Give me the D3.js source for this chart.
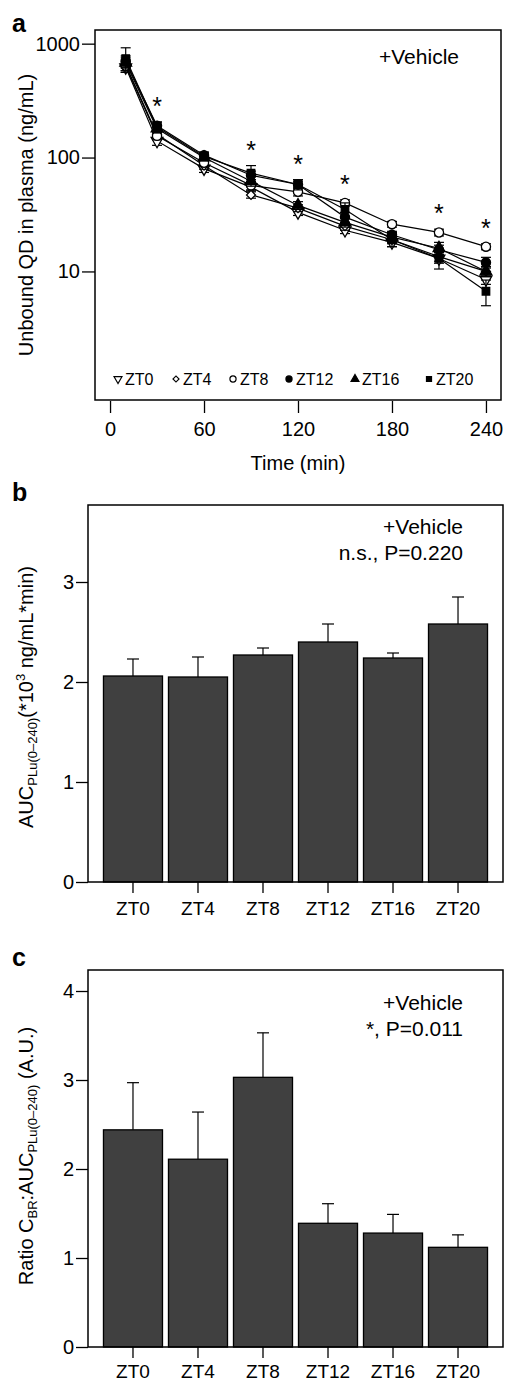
<!DOCTYPE html>
<html>
<head>
<meta charset="utf-8">
<script src="https://cdn.jsdelivr.net/npm/d3@7/dist/d3.min.js"></script>
<style>
body { margin: 0; background: #fff; }
svg { font-family: "Liberation Sans", Arial, sans-serif; }
</style>
</head>
<body>
<svg id="fig" width="505" height="1382"></svg>
<script>
// sampling times (min) and circadian groups
var times = [10, 30, 60, 90, 120, 150, 180, 210, 240];
var groups = ["ZT0", "ZT4", "ZT8", "ZT12", "ZT16", "ZT20"];

// unbound QD in plasma (ng/mL), mean per group
var zt0Mean = [620, 140, 80, 55, 33, 23, 18, 13, 8.5];
var zt4Mean = [650, 160, 85, 47, 36, 25, 19, 13.5, 10];
var zt8Mean = [640, 155, 90, 57, 50, 40, 26, 22, 16.5];
var zt12Mean = [700, 190, 105, 70, 58, 30, 21, 15.5, 12];
var zt16Mean = [680, 180, 100, 62, 38, 27, 20, 16, 10];
var zt20Mean = [740, 185, 102, 73, 58, 35, 19, 13, 6.7];

// SEM per group
var zt0Sem = [60, 12, 6, 4, 2, 1.5, 1.5, 1.2, 0.8];
var zt4Sem = [70, 14, 6, 3, 2.5, 2, 1.5, 1.2, 1];
var zt8Sem = [60, 12, 7, 5, 4, 2.5, 1.5, 1.5, 1];
var zt12Sem = [80, 15, 7, 6, 4, 3, 1.5, 1.5, 1.3];
var zt16Sem = [70, 15, 6, 6, 3, 2.5, 2, 2, 1];
var zt20Sem = [180, 20, 8, 12, 6, 5, 2.5, 2.5, 1.7];

// time points with a significant group difference
var sigTimes = [30, 90, 120, 150, 210, 240];

// AUC PLu(0-240) (*10^3 ng/mL*min)
var aucMean = [2.06, 2.05, 2.27, 2.40, 2.24, 2.58];
var aucSem = [0.17, 0.20, 0.07, 0.18, 0.05, 0.27];

// ratio C_BR : AUC PLu(0-240) (A.U.)
var ratioMean = [2.44, 2.11, 3.03, 1.39, 1.28, 1.12];
var ratioSem = [0.53, 0.53, 0.50, 0.22, 0.21, 0.14];

var logTicks = [10, 100, 1000];
var timeTicks = [0, 60, 120, 180, 240];
var aucTicks = [0, 1, 2, 3];
var ratioTicks = [0, 1, 2, 3, 4];

(function() {

    var svg = d3.select("#fig");

    var means = [zt0Mean, zt4Mean, zt8Mean, zt12Mean, zt16Mean, zt20Mean];
    var sems = [zt0Sem, zt4Sem, zt8Sem, zt12Sem, zt16Sem, zt20Sem];

    //symbol type, fill, rotation for each group
    var shapes = [
        {type: d3.symbolTriangle, fill: "#fff", rot: 180},
        {type: d3.symbolSquare, fill: "#fff", rot: 45},
        {type: d3.symbolCircle, fill: "#fff", rot: 0},
        {type: d3.symbolCircle, fill: "#000", rot: 0},
        {type: d3.symbolTriangle, fill: "#000", rot: 0},
        {type: d3.symbolSquare, fill: "#000", rot: 0}
    ];
    var sizes = [60, 40, 66, 66, 60, 56];

    var drawBox = function(x0, y0, x1, y1) {
        svg.append("rect")
            .attr("x", x0).attr("y", y0)
            .attr("width", x1 - x0).attr("height", y1 - y0)
            .attr("fill", "none").attr("stroke", "#000").attr("stroke-width", 1.5);
    };

    var styleAxis = function(g, fontSize) {
        g.select(".domain").remove();
        g.selectAll(".tick line").attr("stroke", "#000").attr("stroke-width", 1.3);
        g.selectAll(".tick text").attr("fill", "#000")
            .style("font-size", fontSize + "px")
            .style("font-family", "Liberation Sans, Arial, sans-serif");
    };

    var panelLetter = function(txt, x, y) {
        svg.append("text").attr("x", x).attr("y", y)
            .style("font-size", "25px").style("font-weight", "bold")
            .text(txt);
    };

    //######################### panel a #########################
    var xA = d3.scaleLinear().domain([-9.6, 249.6]).range([95, 501]);
    var yA = d3.scaleLog().domain([Math.pow(10, -0.12), Math.pow(10, 3.12)]).range([399, 30]);

    panelLetter("a", 12, 32);

    var gxA = svg.append("g").attr("transform", "translate(0,401)")
        .call(d3.axisBottom(xA).tickValues(timeTicks).tickSize(12).tickPadding(9));
    styleAxis(gxA, 20);

    var gyA = svg.append("g").attr("transform", "translate(95,0)")
        .call(d3.axisLeft(yA).tickValues(logTicks).tickFormat(d3.format("d")).tickSize(13).tickPadding(2));
    styleAxis(gyA, 20);

    var line = d3.line()
        .x(function(d) { return xA(d[0]); })
        .y(function(d) { return yA(d[1]); });

    var seriesA = svg.append("g");
    means.forEach(function(m, gi) {
        var pts = times.map(function(t, i) { return [t, m[i], sems[gi][i]]; });
        var sg = seriesA.append("g");
        sg.append("path").datum(pts).attr("d", line)
            .attr("fill", "none").attr("stroke", "#000").attr("stroke-width", 1.2);
        pts.forEach(function(p) {
            var x = xA(p[0]);
            var yl = yA(p[1] - p[2]), yh = yA(p[1] + p[2]);
            sg.append("line").attr("x1", x).attr("x2", x).attr("y1", yl).attr("y2", yh)
                .attr("stroke", "#000").attr("stroke-width", 1.2);
            [yl, yh].forEach(function(yy) {
                sg.append("line").attr("x1", x - 5).attr("x2", x + 5).attr("y1", yy).attr("y2", yy)
                    .attr("stroke", "#000").attr("stroke-width", 1.2);
            });
        });
        sg.selectAll("path.pt").data(pts).enter().append("path")
            .attr("class", "pt")
            .attr("d", d3.symbol().type(shapes[gi].type).size(sizes[gi]))
            .attr("transform", function(d) {
                return "translate(" + xA(d[0]) + "," + yA(d[1]) + ") rotate(" + shapes[gi].rot + ")";
            })
            .attr("fill", shapes[gi].fill).attr("stroke", "#000").attr("stroke-width", 1.3);
    });

    //asterisks above the highest error bar at each significant time
    sigTimes.forEach(function(t) {
        var i = times.indexOf(t);
        var top = d3.max(means, function(m, gi) { return m[i] + sems[gi][i]; });
        svg.append("text").attr("x", xA(t)).attr("y", yA(top) - 7)
            .attr("text-anchor", "middle").style("font-size", "25px").text("*");
    });

    svg.append("text").attr("x", 379).attr("y", 64)
        .style("font-size", "21px").text("+Vehicle");

    //legend along the bottom of the plot
    var legX = [118, 176, 233, 289, 355, 429];
    groups.forEach(function(name, gi) {
        svg.append("path")
            .attr("d", d3.symbol().type(shapes[gi].type).size(sizes[gi] * 0.45))
            .attr("transform", "translate(" + legX[gi] + ",379) rotate(" + shapes[gi].rot + ")")
            .attr("fill", shapes[gi].fill).attr("stroke", "#000").attr("stroke-width", 1.2);
        svg.append("text").attr("x", legX[gi] + 7).attr("y", 385)
            .style("font-size", "16px").text(name);
    });

    drawBox(95, 30, 501, 400);

    svg.append("text").attr("transform", "translate(33,215) rotate(-90)")
        .attr("text-anchor", "middle").style("font-size", "20px")
        .text("Unbound QD in plasma (ng/mL)");
    svg.append("text").attr("x", 298).attr("y", 470)
        .attr("text-anchor", "middle").style("font-size", "20px")
        .text("Time (min)");

    //######################### bar panels #########################
    var barPanel = function(opts) {
        var x = d3.scaleBand().domain(groups).range([88, 503]).paddingInner(0.092).paddingOuter(0.238);
        var y = d3.scaleLinear().domain([0, opts.top]).range([opts.bottom, opts.y0]);

        panelLetter(opts.letter, 12, opts.y0 - 4);

        var bars = svg.append("g");
        groups.forEach(function(g, i) {
            var cx = x(g) + x.bandwidth() / 2;
            var yt = y(opts.means[i] + opts.sems[i]);
            bars.append("line").attr("x1", cx).attr("x2", cx)
                .attr("y1", y(opts.means[i])).attr("y2", yt)
                .attr("stroke", "#000").attr("stroke-width", 1.2);
            bars.append("line").attr("x1", cx - 6).attr("x2", cx + 6)
                .attr("y1", yt).attr("y2", yt)
                .attr("stroke", "#000").attr("stroke-width", 1.2);
        });
        bars.selectAll("rect").data(opts.means).enter().append("rect")
            .attr("x", function(d, i) { return x(groups[i]); })
            .attr("y", function(d) { return y(d); })
            .attr("width", x.bandwidth())
            .attr("height", function(d) { return opts.bottom - y(d); })
            .attr("fill", "#404040").attr("stroke", "#000").attr("stroke-width", 1.3);

        var gx = svg.append("g").attr("transform", "translate(0," + opts.bottom + ")")
            .call(d3.axisBottom(x).tickSize(11).tickPadding(opts.xPad));
        styleAxis(gx, 19);

        var gy = svg.append("g").attr("transform", "translate(88,0)")
            .call(d3.axisLeft(y).tickValues(opts.ticks).tickFormat(d3.format("d")).tickSize(12).tickPadding(2));
        styleAxis(gy, 20);

        drawBox(88, opts.y0, 503, opts.bottom);

        opts.notes.forEach(function(n, k) {
            svg.append("text").attr("x", 463).attr("y", opts.noteY + k * 26)
                .attr("text-anchor", "end").style("font-size", "21px").text(n);
        });

        var lab = svg.append("text")
            .attr("transform", "translate(33," + opts.labelY + ") rotate(-90)")
            .attr("text-anchor", "middle").style("font-size", "20px");
        opts.label.forEach(function(part) {
            var t = lab.append("tspan").text(part.t);
            if (part.sub) { t.attr("dy", 4).style("font-size", "13px"); }
            if (part.sup) { t.attr("dy", -8).style("font-size", "13px"); }
            if (part.dy) { t.attr("dy", part.dy); }
        });
    };

    barPanel({
        letter: "b", y0: 505, bottom: 882, top: 3.77, xPad: 9,
        means: aucMean, sems: aucSem, ticks: aucTicks,
        notes: ["+Vehicle", "n.s., P=0.220"], noteY: 534,
        labelY: 697,
        label: [
            {t: "AUC"}, {t: "PLu(0\u2013240)", sub: true},
            {t: "(*10", dy: -4}, {t: "3", sup: true},
            {t: " ng/mL*min)", dy: 8}
        ]
    });

    barPanel({
        letter: "c", y0: 970, bottom: 1347, top: 4.236, xPad: 7,
        means: ratioMean, sems: ratioSem, ticks: ratioTicks,
        notes: ["+Vehicle", "*, P=0.011"], noteY: 1010,
        labelY: 1156,
        label: [
            {t: "Ratio C"}, {t: "BR", sub: true},
            {t: ":AUC", dy: -4}, {t: "PLu(0\u2013240)", sub: true},
            {t: " (A.U.)", dy: -4}
        ]
    });

}());
</script>
</body>
</html>
